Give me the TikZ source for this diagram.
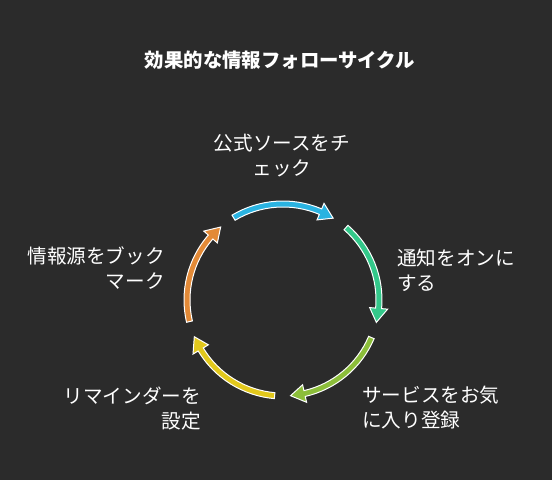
\documentclass[tikz,border=0pt]{standalone}
\usepackage{fontspec}
\setmainfont{Noto Sans CJK JP}
\usepackage{tikz}
\usetikzlibrary{positioning}

\definecolor{bgdark}{HTML}{2B2B2B}
\definecolor{arrowblue}{HTML}{2AB3E1}
\definecolor{arrowgreen}{HTML}{33C88A}
\definecolor{arrowlime}{HTML}{8CBE3A}
\definecolor{arrowyellow}{HTML}{E2C81C}
\definecolor{arroworange}{HTML}{E38A37}

\tikzset{
	label/.style = {text = white, inner sep = 0pt, font = \fontsize{19.6}{25}\selectfont},
	title/.style = {text = white, inner sep = 0pt, font = \fontsize{19.4}{22}\selectfont\bfseries}
}

% one bent arrow of the cycle: #1 middle angle, #2 colour
\newcommand{\cyclearrow}[2]{%
	\filldraw[fill = #2, draw = white, line width = 1pt]
		({#1+31}:99) arc[start angle = {#1+31}, end angle = {#1-23}, radius = 99]
		-- ({#1-23}:105) -- ({#1-31.5}:96) -- ({#1-23}:87)
		-- ({#1-23}:93) arc[start angle = {#1-23}, end angle = {#1+31}, radius = 93] -- cycle;
}

\begin{document}
\begin{tikzpicture}[x = 1pt, y = 1pt]
	\fill[bgdark] (0, 0) rectangle (552, 480);
	\useasboundingbox (0, 0) rectangle (552, 480);

	\node[title] (title) at (280, 420) {効果的な情報フォローサイクル};

	\begin{scope}[shift = {(283, 180)}]
		\cyclearrow{90}{arrowblue}
		\cyclearrow{18}{arrowgreen}
		\cyclearrow{-54}{arrowlime}
		\cyclearrow{-126}{arrowyellow}
		\cyclearrow{162}{arroworange}
	\end{scope}

	\node[label, align = center] (check) at (282, 324.5) {公式ソースをチ\\ェック};
	\node[label, align = left, anchor = west] (notify) at (397, 209.5) {通知をオンに\\する};
	\node[label, align = left, anchor = west] (favorite) at (362, 72.5) {サービスをお気\\に入り登録};
	\node[label, align = right, anchor = east] (reminder) at (201, 71.5) {リマインダーを\\設定};
	\node[label, align = right, anchor = east] (bookmark) at (165, 211.5) {情報源をブック\\マーク};
\end{tikzpicture}
\end{document}
